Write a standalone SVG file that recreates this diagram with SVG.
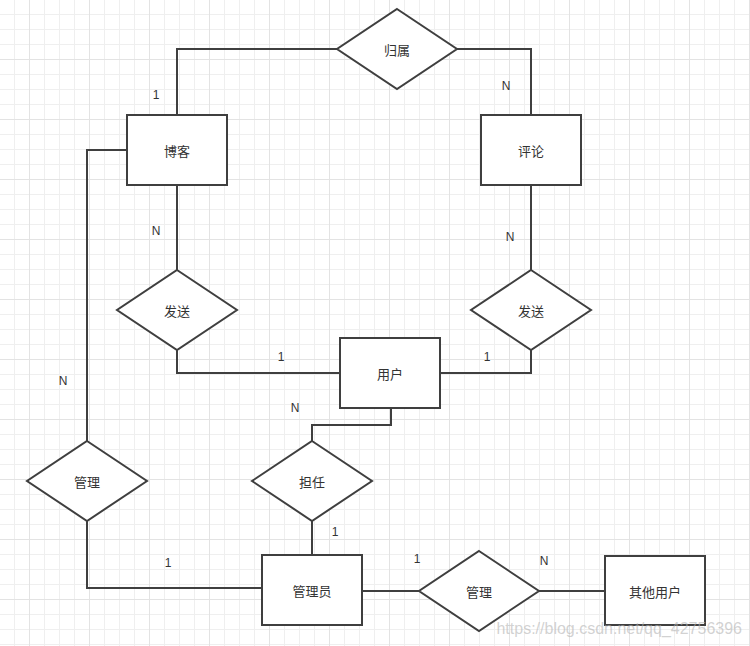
<svg xmlns="http://www.w3.org/2000/svg" width="750" height="646" viewBox="0 0 750 646">
<defs>
<pattern id="grid" patternUnits="userSpaceOnUse" x="0" y="0" width="60" height="60">
<path d="M14.5 0V60M44.5 0V60M59.5 0V60M0 14.5H60M0 29.5H60M0 44.5H60" stroke="#efefef" stroke-width="1" fill="none"/>
<path d="M29.5 0V60M0 59.5H60" stroke="#e3e3e3" stroke-width="1" fill="none"/>
</pattern>
<style>
.ent{fill:#fff;stroke:#3f3f3f;stroke-width:2}
.rel{fill:#fff;stroke:#3f3f3f;stroke-width:2}
.lbl{font-family:"Noto Sans CJK SC","Noto Sans",sans-serif;font-size:13px;fill:#333;text-anchor:middle;dominant-baseline:central}
.card{font-family:"Liberation Sans",Arial,sans-serif;font-size:12px;fill:#333;text-anchor:middle;dominant-baseline:central}
.conn{fill:none;stroke:#3f3f3f;stroke-width:2}
</style>
</defs>
<rect width="750" height="646" fill="#fff"/>
<rect width="750" height="646" fill="url(#grid)"/>
<g id="connectors">
<path class="conn" d="M177 115V49H337"/>
<path class="conn" d="M457 49H531V115"/>
<path class="conn" d="M127 150H87V441"/>
<path class="conn" d="M87 521V588H262"/>
<path class="conn" d="M177 185V270"/>
<path class="conn" d="M177 350V373H340"/>
<path class="conn" d="M531 185V270"/>
<path class="conn" d="M531 350V373H440"/>
<path class="conn" d="M391 408V425H312V441"/>
<path class="conn" d="M312 521V555"/>
<path class="conn" d="M362 591H419"/>
<path class="conn" d="M539 591H605"/>
</g>
<g id="guishu"><polygon class="rel" points="397,9 457,49 397,89 337,49"/><text class="lbl" x="397" y="49">归属</text></g>
<g id="boke"><rect class="ent" x="127" y="115" width="100" height="70"/><text class="lbl" x="177" y="150">博客</text></g>
<g id="pinglun"><rect class="ent" x="481" y="115" width="100" height="70"/><text class="lbl" x="531" y="150">评论</text></g>
<g id="fasong1"><polygon class="rel" points="177,270 237,310 177,350 117,310"/><text class="lbl" x="177" y="310">发送</text></g>
<g id="fasong2"><polygon class="rel" points="531,270 591,310 531,350 471,310"/><text class="lbl" x="531" y="310">发送</text></g>
<g id="yonghu"><rect class="ent" x="340" y="338" width="100" height="70"/><text class="lbl" x="390" y="373">用户</text></g>
<g id="guanli1"><polygon class="rel" points="87,441 147,481 87,521 27,481"/><text class="lbl" x="87" y="481">管理</text></g>
<g id="danren"><polygon class="rel" points="312,441 372,481 312,521 252,481"/><text class="lbl" x="312" y="481">担任</text></g>
<g id="guanliyuan"><rect class="ent" x="262" y="555" width="100" height="70"/><text class="lbl" x="312" y="590">管理员</text></g>
<g id="guanli2"><polygon class="rel" points="479,551 539,591 479,631 419,591"/><text class="lbl" x="479" y="591">管理</text></g>
<g id="qitayonghu"><rect class="ent" x="605" y="556" width="100" height="69"/><text class="lbl" x="655" y="591">其他用户</text></g>
<g id="cardinalities">
<text class="card" x="156" y="95">1</text>
<text class="card" x="506" y="86">N</text>
<text class="card" x="156" y="231">N</text>
<text class="card" x="510" y="237">N</text>
<text class="card" x="281" y="357">1</text>
<text class="card" x="487" y="357">1</text>
<text class="card" x="63" y="381">N</text>
<text class="card" x="295" y="408">N</text>
<text class="card" x="335" y="532">1</text>
<text class="card" x="168" y="563">1</text>
<text class="card" x="417" y="559">1</text>
<text class="card" x="544" y="561">N</text>
</g>
<text x="742" y="634" font-family="'Liberation Sans',Arial,sans-serif" font-size="16" fill="#b4b4b4" fill-opacity="0.6" text-anchor="end">https://blog.csdn.net/qq_42756396</text>
</svg>
